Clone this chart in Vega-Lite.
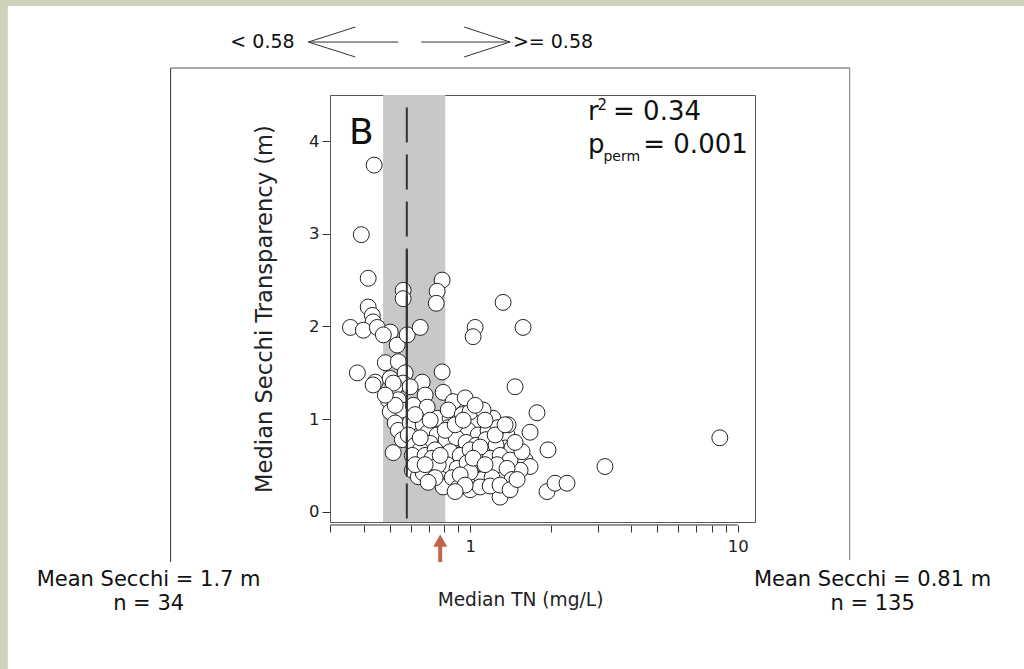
{
  "$schema": "https://vega.github.io/schema/vega-lite/v6.json",
  "width": 425,
  "height": 427,
  "autosize": "none",
  "padding": {"left": 330, "top": 95, "right": 269, "bottom": 147},
  "background": "white",
  "config": {
    "view": {"stroke": "#555", "strokeWidth": 1},
    "font": "DejaVu Sans",
    "text": {"font": "DejaVu Sans"},
    "axis": {"labelFontSize": 16.5, "labelColor": "#222", "tickColor": "#333", "titleFontWeight": "normal", "titleColor": "#222", "grid": false, "domain": false, "labelFont": "DejaVu Sans", "titleFont": "DejaVu Sans"}
  },
  "data": {"values": [{}]},
  "datasets": {
    "pts": [
      {"tn":0.438,"secchi":3.74},{"tn":0.392,"secchi":2.99},{"tn":0.416,"secchi":2.52},{"tn":0.562,"secchi":2.39},{"tn":0.562,"secchi":2.30},
      {"tn":0.416,"secchi":2.21},{"tn":0.431,"secchi":2.12},{"tn":0.434,"secchi":2.05},{"tn":0.357,"secchi":1.99},{"tn":0.399,"secchi":1.96},
      {"tn":0.450,"secchi":1.99},{"tn":0.503,"secchi":1.94},{"tn":0.474,"secchi":1.91},{"tn":0.534,"secchi":1.80},{"tn":0.482,"secchi":1.61},
      {"tn":0.539,"secchi":1.62},{"tn":0.379,"secchi":1.50},{"tn":0.442,"secchi":1.40},{"tn":0.503,"secchi":1.44},{"tn":0.572,"secchi":1.50},
      {"tn":0.562,"secchi":1.39},{"tn":0.525,"secchi":1.35},{"tn":0.434,"secchi":1.37},{"tn":0.516,"secchi":1.39},{"tn":0.494,"secchi":1.21},
      {"tn":0.539,"secchi":1.21},{"tn":0.503,"secchi":1.08},{"tn":0.558,"secchi":1.10},{"tn":0.525,"secchi":0.96},{"tn":0.516,"secchi":0.64},
      {"tn":0.539,"secchi":0.88},{"tn":0.558,"secchi":0.78},{"tn":0.525,"secchi":1.15},{"tn":0.482,"secchi":1.26},
      {"tn":0.786,"secchi":2.50},{"tn":0.753,"secchi":2.38},{"tn":0.747,"secchi":2.25},{"tn":0.582,"secchi":1.91},{"tn":0.651,"secchi":1.99},
      {"tn":0.662,"secchi":1.40},{"tn":0.786,"secchi":1.51},{"tn":0.597,"secchi":1.35},{"tn":0.679,"secchi":1.26},{"tn":0.793,"secchi":1.29},
      {"tn":0.613,"secchi":1.15},{"tn":0.691,"secchi":1.13},{"tn":0.753,"secchi":1.01},{"tn":0.842,"secchi":1.02},{"tn":0.597,"secchi":0.96},
      {"tn":0.668,"secchi":0.94},{"tn":0.587,"secchi":0.83},{"tn":0.691,"secchi":0.85},{"tn":0.753,"secchi":0.83},{"tn":0.709,"secchi":0.74},
      {"tn":0.793,"secchi":0.70},{"tn":0.634,"secchi":0.56},{"tn":0.709,"secchi":0.53},{"tn":0.608,"secchi":0.45},{"tn":0.640,"secchi":0.38},
      {"tn":0.668,"secchi":0.42},{"tn":0.807,"secchi":0.29},{"tn":0.773,"secchi":0.45},{"tn":0.864,"secchi":0.53},{"tn":0.864,"secchi":0.64},
      {"tn":0.879,"secchi":0.78},{"tn":1.472,"secchi":1.35},{"tn":1.778,"secchi":1.07},{"tn":1.675,"secchi":0.86},{"tn":1.954,"secchi":0.67},
      {"tn":1.218,"secchi":1.01},{"tn":1.374,"secchi":0.83},{"tn":1.062,"secchi":0.96},{"tn":0.918,"secchi":1.13},{"tn":0.864,"secchi":1.19},
      {"tn":1.351,"secchi":0.69},{"tn":1.604,"secchi":0.56},{"tn":1.675,"secchi":0.49},{"tn":1.537,"secchi":0.45},{"tn":1.316,"secchi":0.42},
      {"tn":1.294,"secchi":0.16},{"tn":1.938,"secchi":0.22},{"tn":2.076,"secchi":0.31},{"tn":2.301,"secchi":0.31},{"tn":1.328,"secchi":2.26},
      {"tn":1.044,"secchi":1.99},{"tn":1.026,"secchi":1.89},{"tn":1.577,"secchi":1.99},{"tn":3.19,"secchi":0.49},{"tn":8.57,"secchi":0.80},
      {"tn":0.793,"secchi":0.27},
      {"tn":0.828,"secchi":0.91},{"tn":0.902,"secchi":0.94},{"tn":0.983,"secchi":0.88},{"tn":1.071,"secchi":0.83},{"tn":1.167,"secchi":0.88},
      {"tn":1.272,"secchi":0.91},{"tn":1.386,"secchi":0.94},{"tn":0.814,"secchi":0.78},{"tn":0.887,"secchi":0.80},{"tn":0.966,"secchi":0.75},
      {"tn":1.053,"secchi":0.72},{"tn":1.147,"secchi":0.78},{"tn":1.250,"secchi":0.72},{"tn":1.434,"secchi":0.69},{"tn":0.842,"secchi":0.65},
      {"tn":0.918,"secchi":0.61},{"tn":1.0,"secchi":0.67},{"tn":1.090,"secchi":0.61},{"tn":1.188,"secchi":0.58},{"tn":1.294,"secchi":0.61},
      {"tn":1.410,"secchi":0.56},{"tn":0.821,"secchi":0.51},{"tn":0.894,"secchi":0.47},{"tn":0.974,"secchi":0.53},{"tn":1.062,"secchi":0.47},
      {"tn":1.157,"secchi":0.45},{"tn":1.261,"secchi":0.51},{"tn":1.374,"secchi":0.47},{"tn":0.857,"secchi":0.37},{"tn":0.934,"secchi":0.35},
      {"tn":1.017,"secchi":0.39},{"tn":1.109,"secchi":0.35},{"tn":1.208,"secchi":0.37},{"tn":1.434,"secchi":0.35},{"tn":0.902,"secchi":0.26},
      {"tn":1.0,"secchi":0.24},{"tn":1.090,"secchi":0.27},{"tn":1.188,"secchi":0.28},{"tn":0.623,"secchi":0.72},{"tn":0.651,"secchi":0.67},
      {"tn":0.608,"secchi":0.61},{"tn":0.679,"secchi":0.61},{"tn":0.740,"secchi":0.67},{"tn":0.721,"secchi":0.58},{"tn":0.760,"secchi":0.51},
      {"tn":0.623,"secchi":1.05},{"tn":0.709,"secchi":0.99},{"tn":0.651,"secchi":0.80},{"tn":0.807,"secchi":0.88},{"tn":0.828,"secchi":1.10},
      {"tn":0.934,"secchi":1.05},{"tn":1.0,"secchi":1.08},{"tn":1.118,"secchi":1.10},{"tn":0.958,"secchi":1.23},{"tn":1.044,"secchi":1.15},
      {"tn":0.879,"secchi":0.94},{"tn":1.137,"secchi":0.99},{"tn":1.240,"secchi":0.83},{"tn":1.351,"secchi":0.94},{"tn":1.090,"secchi":0.70},
      {"tn":1.0,"secchi":0.43},{"tn":0.918,"secchi":0.40},{"tn":0.740,"secchi":0.37},{"tn":0.697,"secchi":0.32},{"tn":0.623,"secchi":0.51},
      {"tn":0.679,"secchi":0.51},{"tn":0.773,"secchi":0.61},{"tn":0.958,"secchi":0.29},{"tn":1.294,"secchi":0.29},{"tn":1.410,"secchi":0.24},
      {"tn":1.498,"secchi":0.35},{"tn":1.563,"secchi":0.65},{"tn":1.472,"secchi":0.75},{"tn":0.942,"secchi":0.99},{"tn":1.026,"secchi":0.58},
      {"tn":1.137,"secchi":0.51},{"tn":0.879,"secchi":0.22}
    ]
  },
  "layer": [
    {
      "mark": {"type": "rect", "color": "#CDD2B9"},
      "encoding": {
        "x": {"datum": 0.0170, "type": "quantitative", "scale": {"type": "log", "domain": [0.2995, 11.6], "nice": false}},
        "x2": {"datum": 0.01873},
        "y": {"datum": 5.7, "type": "quantitative", "scale": {"domain": [-0.108, 4.496], "nice": false, "zero": false}},
        "y2": {"datum": -1.8}
      }
    },
    {
      "mark": {"type": "rect", "color": "#CDD2B9"},
      "encoding": {
        "x": {"datum": 0.0170, "type": "quantitative"},
        "x2": {"datum": 120},
        "y": {"datum": 5.7, "type": "quantitative"},
        "y2": {"datum": 5.455}
      }
    },
    {
      "mark": {"type": "rect", "color": "#C8C8C8"},
      "encoding": {
        "x": {"datum": 0.473, "type": "quantitative"},
        "x2": {"datum": 0.807}
      }
    },
    {
      "data": {"name": "pts"},
      "mark": {"type": "point", "shape": "circle", "filled": false, "fill": "white", "stroke": "#222", "strokeWidth": 1, "opacity": 1, "size": 254},
      "encoding": {
        "x": {
          "field": "tn", "type": "quantitative",
          "scale": {"type": "log", "domain": [0.2995, 11.6], "nice": false},
          "axis": {
            "title": "Median TN (mg/L)", "titleFontSize": 18.6,
            "titleX": 190, "titlePadding": 36,
            "values": [0.3,0.4,0.5,0.6,0.7,0.8,0.9,1,2,3,4,5,6,7,8,9,10],
            "labelExpr": "datum.value == 1 || datum.value == 10 ? format(datum.value, '~g') : ''",
            "labelFontSize": 16.5, "labelPadding": 6, "labelFlush": false,
            "tickSize": 7, "offset": 3
          }
        },
        "y": {
          "field": "secchi", "type": "quantitative",
          "scale": {"domain": [-0.108, 4.496], "nice": false, "zero": false},
          "axis": {
            "title": "Median Secchi Transparency (m)", "titleFontSize": 22.6,
            "titlePadding": 32, "format": "d",
            "values": [0,1,2,3,4], "labelFontSize": 16.5, "labelPadding": 3,
            "tickSize": 8
          }
        }
      }
    },
    {
      "mark": {"type": "rule", "color": "#333", "strokeWidth": 1},
      "encoding": {
        "x": {"datum": 0.3, "type": "quantitative"},
        "x2": {"datum": 10},
        "y": {"datum": -0.14, "type": "quantitative"}
      }
    },
    {
      "mark": {"type": "rule", "color": "#333", "strokeWidth": 2, "strokeDash": [35, 12]},
      "encoding": {
        "x": {"datum": 0.58, "type": "quantitative"},
        "y": {"datum": 4.36, "type": "quantitative"},
        "y2": {"datum": -0.108}
      }
    },
    {
      "mark": {"type": "rule", "color": "#333", "strokeWidth": 2},
      "encoding": {
        "x": {"datum": 0.58, "type": "quantitative"},
        "y": {"datum": 2.82, "type": "quantitative"},
        "y2": {"datum": 0.38}
      }
    },
    {
      "mark": {"type": "text", "text": "B", "fontSize": 36, "color": "#111", "align": "center", "baseline": "middle"},
      "encoding": {"x": {"datum": 0.392, "type": "quantitative"}, "y": {"datum": 4.09, "type": "quantitative"}}
    },
    {
      "mark": {"type": "text", "text": "r", "fontSize": 26, "color": "#111", "align": "left", "baseline": "alphabetic"},
      "encoding": {"x": {"datum": 2.756, "type": "quantitative"}, "y": {"datum": 4.226, "type": "quantitative"}}
    },
    {
      "mark": {"type": "text", "text": "2", "fontSize": 15, "color": "#111", "align": "left", "baseline": "alphabetic"},
      "encoding": {"x": {"datum": 2.99, "type": "quantitative"}, "y": {"datum": 4.33, "type": "quantitative"}}
    },
    {
      "mark": {"type": "text", "text": "= 0.34", "fontSize": 26, "color": "#111", "align": "left", "baseline": "alphabetic"},
      "encoding": {"x": {"datum": 3.42, "type": "quantitative"}, "y": {"datum": 4.226, "type": "quantitative"}}
    },
    {
      "mark": {"type": "text", "text": "p", "fontSize": 26, "color": "#111", "align": "left", "baseline": "alphabetic"},
      "encoding": {"x": {"datum": 2.756, "type": "quantitative"}, "y": {"datum": 3.87, "type": "quantitative"}}
    },
    {
      "mark": {"type": "text", "text": "perm", "fontSize": 14, "color": "#111", "align": "left", "baseline": "alphabetic"},
      "encoding": {"x": {"datum": 3.15, "type": "quantitative"}, "y": {"datum": 3.78, "type": "quantitative"}}
    },
    {
      "mark": {"type": "text", "text": "= 0.001", "fontSize": 26, "color": "#111", "align": "right", "baseline": "alphabetic"},
      "encoding": {"x": {"datum": 10.9, "type": "quantitative"}, "y": {"datum": 3.87, "type": "quantitative"}}
    },
    {
      "mark": {"type": "rule", "color": "#555", "strokeWidth": 1},
      "encoding": {"x": {"datum": 0.076, "type": "quantitative"}, "x2": {"datum": 26.2}, "y": {"datum": 4.787, "type": "quantitative"}}
    },
    {
      "mark": {"type": "rule", "color": "#333", "strokeWidth": 1},
      "encoding": {"x": {"datum": 0.076, "type": "quantitative"}, "y": {"datum": 4.787, "type": "quantitative"}, "y2": {"datum": -0.539}}
    },
    {
      "mark": {"type": "rule", "color": "#777", "strokeWidth": 1},
      "encoding": {"x": {"datum": 26.2, "type": "quantitative"}, "y": {"datum": 4.787, "type": "quantitative"}, "y2": {"datum": -0.52}}
    },
    {
      "mark": {"type": "rule", "color": "#333", "strokeWidth": 1},
      "encoding": {"x": {"datum": 0.2486, "type": "quantitative"}, "x2": {"datum": 0.539}, "y": {"datum": 5.067, "type": "quantitative"}}
    },
    {
      "mark": {"type": "rule", "color": "#333", "strokeWidth": 1},
      "encoding": {"x": {"datum": 0.2486, "type": "quantitative"}, "x2": {"datum": 0.3724}, "y": {"datum": 5.067, "type": "quantitative"}, "y2": {"datum": 5.229}}
    },
    {
      "mark": {"type": "rule", "color": "#333", "strokeWidth": 1},
      "encoding": {"x": {"datum": 0.2486, "type": "quantitative"}, "x2": {"datum": 0.3724}, "y": {"datum": 5.067, "type": "quantitative"}, "y2": {"datum": 4.906}}
    },
    {
      "mark": {"type": "rule", "color": "#333", "strokeWidth": 1},
      "encoding": {"x": {"datum": 0.6566, "type": "quantitative"}, "x2": {"datum": 1.41}, "y": {"datum": 5.067, "type": "quantitative"}}
    },
    {
      "mark": {"type": "rule", "color": "#333", "strokeWidth": 1},
      "encoding": {"x": {"datum": 0.9497, "type": "quantitative"}, "x2": {"datum": 1.41}, "y": {"datum": 5.229, "type": "quantitative"}, "y2": {"datum": 5.067}}
    },
    {
      "mark": {"type": "rule", "color": "#333", "strokeWidth": 1},
      "encoding": {"x": {"datum": 0.9497, "type": "quantitative"}, "x2": {"datum": 1.41}, "y": {"datum": 4.906, "type": "quantitative"}, "y2": {"datum": 5.067}}
    },
    {
      "mark": {"type": "rule", "color": "#C1654B", "strokeWidth": 4},
      "encoding": {"x": {"datum": 0.773, "type": "quantitative"}, "y": {"datum": -0.54, "type": "quantitative"}, "y2": {"datum": -0.33}}
    },
    {
      "mark": {"type": "point", "shape": "triangle-up", "filled": true, "color": "#C1654B", "size": 200, "opacity": 1},
      "encoding": {"x": {"datum": 0.773, "type": "quantitative"}, "y": {"datum": -0.31, "type": "quantitative"}}
    },
    {
      "mark": {"type": "text", "text": "< 0.58", "fontSize": 19, "color": "#111", "align": "center", "baseline": "middle"},
      "encoding": {"x": {"datum": 0.1675, "type": "quantitative"}, "y": {"datum": 5.067, "type": "quantitative"}}
    },
    {
      "mark": {"type": "text", "text": ">= 0.58", "fontSize": 19, "color": "#111", "align": "center", "baseline": "middle"},
      "encoding": {"x": {"datum": 2.04, "type": "quantitative"}, "y": {"datum": 5.067, "type": "quantitative"}}
    },
    {
      "mark": {"type": "text", "text": "Mean Secchi = 1.7 m", "fontSize": 21, "color": "#111", "align": "center", "baseline": "middle"},
      "encoding": {"x": {"datum": 0.0629, "type": "quantitative"}, "y": {"datum": -0.733, "type": "quantitative"}}
    },
    {
      "mark": {"type": "text", "text": "n = 34", "fontSize": 21, "color": "#111", "align": "center", "baseline": "middle"},
      "encoding": {"x": {"datum": 0.0629, "type": "quantitative"}, "y": {"datum": -0.992, "type": "quantitative"}}
    },
    {
      "mark": {"type": "text", "text": "Mean Secchi = 0.81 m", "fontSize": 21, "color": "#111", "align": "center", "baseline": "middle"},
      "encoding": {"x": {"datum": 31.9, "type": "quantitative"}, "y": {"datum": -0.733, "type": "quantitative"}}
    },
    {
      "mark": {"type": "text", "text": "n = 135", "fontSize": 21, "color": "#111", "align": "center", "baseline": "middle"},
      "encoding": {"x": {"datum": 31.9, "type": "quantitative"}, "y": {"datum": -0.992, "type": "quantitative"}}
    }
  ]
}
